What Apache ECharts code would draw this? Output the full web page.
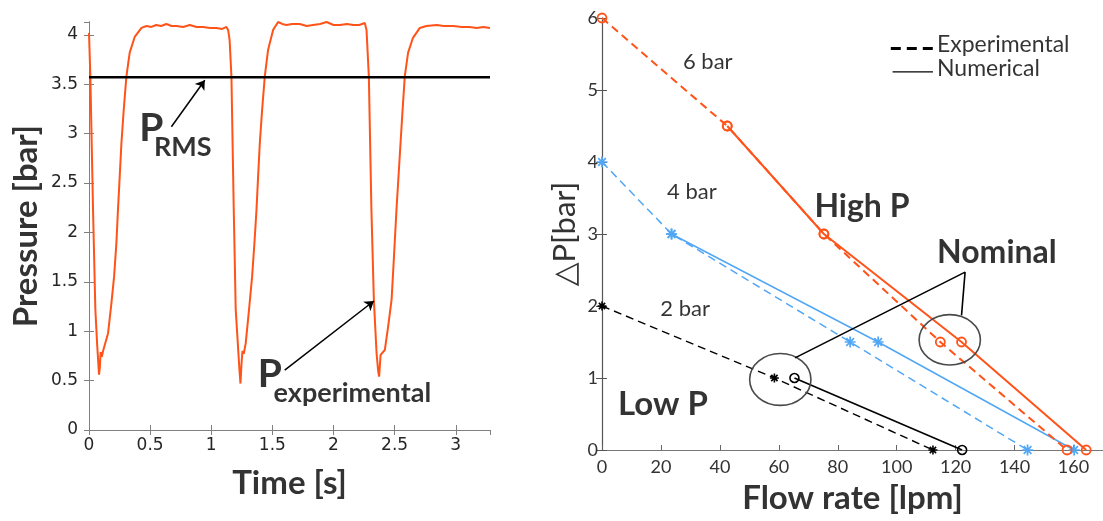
<!DOCTYPE html>
<html><head><meta charset="utf-8">
<script src="https://cdn.jsdelivr.net/npm/echarts@6/dist/echarts.min.js"></script>
<style>html,body{margin:0;padding:0;background:#fff}#c{width:1103px;height:521px}</style>
</head><body><div id="c"></div>
<script>
// ---------- Left panel: pressure trace ----------
const timeS = [0.000,0.011,0.022,0.033,0.052,0.066,0.082,0.088,0.095,0.105,0.115,0.128,0.156,0.183,0.205,0.224,0.237,0.251,0.265,0.284,0.306,0.333,0.374,0.429,0.470,0.510,0.550,0.590,0.633,0.675,0.715,0.770,0.824,0.880,0.933,0.990,1.042,1.090,1.124,1.138,1.150,1.165,1.184,1.200,1.217,1.230,1.239,1.247,1.255,1.266,1.282,1.309,1.334,1.353,1.370,1.383,1.397,1.416,1.438,1.465,1.506,1.547,1.580,1.615,1.660,1.724,1.780,1.833,1.890,1.943,2.000,2.052,2.110,2.160,2.210,2.256,2.270,2.289,2.310,2.330,2.352,2.365,2.373,2.385,2.400,2.420,2.447,2.475,2.493,2.515,2.548,2.565,2.583,2.610,2.650,2.706,2.760,2.843,2.900,2.979,3.050,3.115,3.170,3.225,3.280];
const pressureBar = [4.02,3.58,2.90,2.23,1.22,0.88,0.56,0.62,0.79,0.74,0.80,0.81,0.98,1.28,1.55,1.89,2.23,2.56,2.90,3.24,3.58,3.82,3.98,4.07,4.09,4.08,4.10,4.09,4.11,4.09,4.09,4.08,4.10,4.08,4.08,4.07,4.07,4.06,4.08,4.05,3.95,3.58,2.23,1.22,0.88,0.62,0.47,0.66,0.80,0.77,0.88,1.22,1.55,1.89,2.23,2.56,2.90,3.24,3.58,3.85,4.05,4.13,4.11,4.10,4.11,4.11,4.09,4.10,4.11,4.13,4.10,4.10,4.11,4.10,4.10,4.12,4.05,3.58,2.23,1.32,0.78,0.60,0.54,0.76,0.78,0.81,1.05,1.32,1.72,2.23,2.90,3.24,3.58,3.82,3.97,4.07,4.09,4.10,4.09,4.09,4.08,4.08,4.07,4.08,4.07];
const rmsPressure = 3.57;
const timeRange = [0, 3.28];

// ---------- Right panel: pressure drop vs flow ----------
const flow6Exp = [0, 42.5, 75.3, 114.8, 157.8];
const dp6Exp   = [6, 4.5, 3, 1.5, 0];
const flow6Num = [42.5, 75.3, 122.0, 164.3];
const dp6Num   = [4.5, 3, 1.5, 0];
const flow4Exp = [0, 23.6, 84.2, 144.4];
const dp4Exp   = [4, 3, 1.5, 0];
const flow4Num = [23.6, 93.7, 160.2];
const dp4Num   = [3, 1.5, 0];
const flow2Exp = [0, 58.5, 112.3];
const dp2Exp   = [2, 1, 0];
const flow2Num = [65.3, 122.2];
const dp2Num   = [1, 0];

const zip = (a, b) => a.map((v, i) => [v, b[i]]);

const ORANGE = '#FF5319';
const BLUE = '#52A7F5';
const BLACK = '#000000';
const asterisk = 'path://M5,0 L5,10 M0,5 L10,5 M1.5,1.5 L8.5,8.5 M1.5,8.5 L8.5,1.5';

function textSeries(xi, yi, items) {
  return {
    type: 'scatter', xAxisIndex: xi, yAxisIndex: yi, symbolSize: 1, silent: true, z: 20,
    itemStyle: { color: 'rgba(0,0,0,0)' },
    label: { show: true, position: 'inside' },
    data: items.map(it => ({ value: [it.x, it.y], label: Object.assign({ formatter: it.text, color: '#000' }, it.style) }))
  };
}

const calibriBold = { fontFamily: 'Lato', fontWeight: 700 };
const calibriReg = { fontFamily: 'Lato', fontWeight: 400 };

const chart = echarts.init(document.getElementById('c'), null, { renderer: 'canvas' });
const option = {
  animation: false,
  backgroundColor: '#fff',
  grid: [
    { left: 89, top: 22, width: 401, height: 408 },
    { left: 602, top: 18, right: -4, height: 432 }
  ],
  xAxis: [
    { gridIndex: 0, type: 'value', min: timeRange[0], max: timeRange[1], interval: 0.5,
      axisLine: { lineStyle: { color: '#808080', width: 1 } },
      axisTick: { inside: true, length: 5, lineStyle: { color: '#808080' } },
      axisLabel: { showMaxLabel: false, margin: 7, color: '#262626', fontFamily: 'DejaVu Sans', fontSize: 17 },
      splitLine: { show: false },
      name: 'Time [s]', nameLocation: 'middle', nameGap: 37,
      nameTextStyle: { color: '#333', fontFamily: 'Lato', fontWeight: 700, fontSize: 33 } },
    { gridIndex: 0, type: 'value', position: 'top', min: timeRange[0], max: timeRange[1], interval: 0.5,
      axisLine: { lineStyle: { color: '#808080' } },
      axisTick: { inside: true, length: 5, lineStyle: { color: '#808080' } },
      axisLabel: { show: false }, splitLine: { show: false } },
    { gridIndex: 1, type: 'value', min: 0, max: 170, interval: 20,
      axisLine: { lineStyle: { color: '#666', width: 1.2 } },
      axisTick: { inside: true, length: 5, lineStyle: { color: '#666' } },
      axisLabel: { showMaxLabel: false, margin: 8, color: '#333', fontFamily: 'Lato', fontSize: 18 },
      splitLine: { show: false },
      name: 'Flow rate [lpm]', nameLocation: 'middle', nameGap: 32,
      nameTextStyle: { color: '#333', fontFamily: 'Lato', fontWeight: 700, fontSize: 33 } },
    { gridIndex: 1, type: 'value', position: 'top', min: 0, max: 170,
      axisLine: { lineStyle: { color: '#777', width: 1 } },
      axisTick: { show: false }, axisLabel: { show: false }, splitLine: { show: false } }
  ],
  yAxis: [
    { gridIndex: 0, type: 'value', min: 0, max: 4.13, interval: 0.5,
      axisLine: { show: true, lineStyle: { color: '#808080' } },
      axisTick: { show: true, inside: true, length: 5, lineStyle: { color: '#808080' } },
      axisLabel: { showMaxLabel: false, margin: 11, color: '#262626', fontFamily: 'DejaVu Sans', fontSize: 17 },
      splitLine: { show: false },
      name: 'Pressure [bar]', nameLocation: 'middle', nameGap: 46, nameRotate: 90,
      nameTextStyle: { color: '#333', fontFamily: 'Lato', fontWeight: 700, fontSize: 33 } },
    { gridIndex: 0, type: 'value', position: 'right', min: 0, max: 4.13, interval: 0.5,
      axisLine: { show: true, lineStyle: { color: '#808080' } },
      axisTick: { show: true, inside: true, length: 5, lineStyle: { color: '#808080' } },
      axisLabel: { show: false }, splitLine: { show: false } },
    { gridIndex: 1, type: 'value', min: 0, max: 6, interval: 1,
      axisLine: { show: true, lineStyle: { color: '#555', width: 1.2 } },
      axisTick: { show: true, inside: true, length: 5, lineStyle: { color: '#555' } },
      axisLabel: { margin: 4, color: '#333', fontFamily: 'Lato', fontSize: 18 },
      splitLine: { show: false },
      name: '\u25B3P[bar]', nameLocation: 'middle', nameGap: 22, nameRotate: 90,
      nameTextStyle: { color: '#333', fontFamily: 'Lato, DejaVu Sans', fontWeight: 400, fontSize: 31 } },
    { gridIndex: 1, type: 'value', position: 'right', min: 0, max: 6, interval: 1,
      axisLine: { show: false },
      axisTick: { show: true, inside: true, length: 6, lineStyle: { color: '#555' } },
      axisLabel: { show: false }, splitLine: { show: false } }
  ],
  series: [
    // left panel
    { type: 'line', xAxisIndex: 0, yAxisIndex: 0, data: zip(timeS, pressureBar), symbol: 'none',
      lineStyle: { color: ORANGE, width: 2 }, z: 3 },
    { type: 'line', xAxisIndex: 0, yAxisIndex: 0, data: [[timeRange[0], rmsPressure], [timeRange[1], rmsPressure]],
      symbol: 'none', lineStyle: { color: '#000', width: 2.5 }, z: 4,
      markLine: { silent: true, symbol: ['none', 'arrow'], symbolSize: 9, label: { show: false },
        lineStyle: { color: '#000', width: 1.5, type: 'solid' },
        data: [
          [{ coord: [0.674, 3.07], symbol: 'none' }, { coord: [0.947, 3.54], symbol: 'arrow', symbolSize: 9 }],
          [{ coord: [1.601, 0.607], symbol: 'none' }, { coord: [2.330, 1.306], symbol: 'arrow', symbolSize: 9 }]
        ] } },
    textSeries(0, 0, [
      { x: 0.509, y: 3.05, text: 'P', style: Object.assign({ fontSize: 39 }, calibriBold) },
      { x: 0.767, y: 2.86, text: 'RMS', style: Object.assign({ fontSize: 27 }, calibriBold) },
      { x: 1.479, y: 0.567, text: 'P', style: Object.assign({ fontSize: 39 }, calibriBold) },
      { x: 2.154, y: 0.37, text: 'experimental', style: Object.assign({ fontSize: 27 }, calibriBold) }
    ]),
    // right panel: experimental (dashed)
    { type: 'line', xAxisIndex: 2, yAxisIndex: 2, data: zip(flow6Exp, dp6Exp), symbol: 'circle', symbolSize: 9,
      lineStyle: { color: ORANGE, width: 2, type: [8, 5] },
      itemStyle: { color: 'rgba(255,255,255,0)', borderColor: ORANGE, borderWidth: 1.8 }, z: 5 },
    { type: 'line', xAxisIndex: 2, yAxisIndex: 2, data: zip(flow6Num, dp6Num), symbol: 'circle', symbolSize: 9,
      lineStyle: { color: ORANGE, width: 2 },
      itemStyle: { color: 'rgba(255,255,255,0)', borderColor: ORANGE, borderWidth: 1.8 }, z: 5 },
    { type: 'line', xAxisIndex: 2, yAxisIndex: 2, data: zip(flow4Exp, dp4Exp), symbol: asterisk, symbolSize: 11,
      lineStyle: { color: BLUE, width: 1.5, type: [8, 5] },
      itemStyle: { color: BLUE, borderColor: BLUE, borderWidth: 1.7 }, z: 4 },
    { type: 'line', xAxisIndex: 2, yAxisIndex: 2, data: zip(flow4Num, dp4Num), symbol: asterisk, symbolSize: 11,
      lineStyle: { color: BLUE, width: 1.5 },
      itemStyle: { color: BLUE, borderColor: BLUE, borderWidth: 1.7 }, z: 4 },
    { type: 'line', xAxisIndex: 2, yAxisIndex: 2, data: zip(flow2Exp, dp2Exp), symbol: asterisk, symbolSize: 9,
      lineStyle: { color: BLACK, width: 1.4, type: [8, 5] },
      itemStyle: { color: BLACK, borderColor: BLACK, borderWidth: 1.6 }, z: 4 },
    { type: 'line', xAxisIndex: 2, yAxisIndex: 2, data: zip(flow2Num, dp2Num), symbol: 'circle', symbolSize: 9,
      lineStyle: { color: BLACK, width: 1.6 },
      itemStyle: { color: 'rgba(255,255,255,0)', borderColor: BLACK, borderWidth: 1.6 }, z: 4 },
    // ellipses marking nominal points
    { type: 'custom', xAxisIndex: 2, yAxisIndex: 2, silent: true, z: 6,
      encode: { x: 0, y: 1 },
      data: [[60.5, 0.98, 10.4, 0.36], [118.0, 1.53, 10.4, 0.35]],
      renderItem: function (params, api) {
        const c = api.coord([api.value(0), api.value(1)]);
        const s = api.size([api.value(2), api.value(3)]);
        return { type: 'ellipse', shape: { cx: c[0], cy: c[1], rx: s[0], ry: s[1] },
          style: { fill: 'none', stroke: '#4a4a4a', lineWidth: 1.6 } };
      } },
    // "Nominal" connector
    { type: 'line', xAxisIndex: 2, yAxisIndex: 2, symbol: 'none', silent: true, z: 6,
      data: [[65.5, 1.28], [123.2, 2.47], [122.0, 1.87]],
      lineStyle: { color: '#000', width: 1.6 } },
    // legend strokes
    { type: 'line', xAxisIndex: 2, yAxisIndex: 2, symbol: 'none', silent: true, z: 6,
      data: [[98.0, 5.576], [112.3, 5.576]], lineStyle: { color: '#000', width: 3, type: [10, 6] } },
    { type: 'line', xAxisIndex: 2, yAxisIndex: 2, symbol: 'none', silent: true, z: 6,
      data: [[98.6, 5.252], [112.3, 5.252]], lineStyle: { color: '#000', width: 1.3 } },
    textSeries(2, 2, [
      { x: 35.9, y: 5.386, text: '6 bar', style: Object.assign({ fontSize: 22 }, calibriReg) },
      { x: 30.5, y: 3.584, text: '4 bar', style: Object.assign({ fontSize: 22 }, calibriReg) },
      { x: 28.2, y: 1.962, text: '2 bar', style: Object.assign({ fontSize: 22 }, calibriReg) },
      { x: 88.2, y: 3.376, text: 'High P', style: Object.assign({ fontSize: 32 }, calibriBold) },
      { x: 134.0, y: 2.74, text: 'Nominal', style: Object.assign({ fontSize: 32 }, calibriBold) },
      { x: 20.7, y: 0.631, text: 'Low P', style: Object.assign({ fontSize: 33 }, calibriBold) },
      { x: 113.5, y: 5.636, text: 'Experimental', style: Object.assign({ fontSize: 23, position: 'right', distance: 0 }, calibriReg) },
      { x: 113.5, y: 5.296, text: 'Numerical', style: Object.assign({ fontSize: 23, position: 'right', distance: 0 }, calibriReg) }
    ])
  ]
};
chart.setOption(option);
</script>
</body></html>
